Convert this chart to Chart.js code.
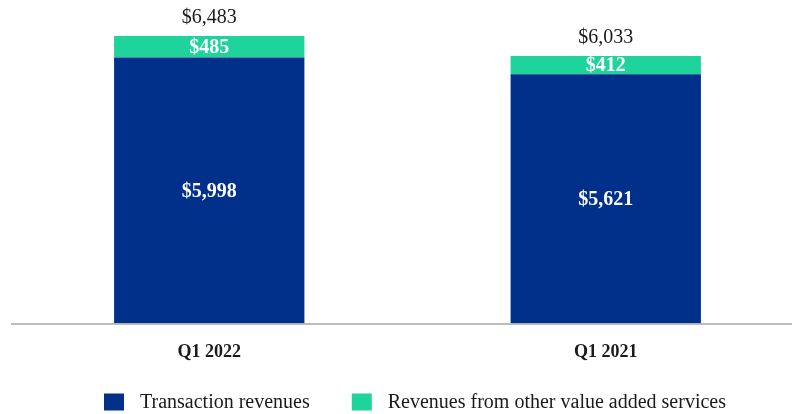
<!DOCTYPE html>
<html>
<head>
<meta charset="utf-8">
<script src="https://cdn.jsdelivr.net/npm/chart.js@4/dist/chart.umd.min.js"></script>
<style>
  html, body { margin: 0; padding: 0; background: #fff; overflow: hidden; }
  /* the plot area runs a little past the right edge of the window, as in the original */
  #wrap { width: 804px; height: 414px; }
</style>
</head>
<body>
<div id="wrap"><canvas id="chart"></canvas></div>
<script>
const quarters = ['Q1 2022', 'Q1 2021'];
const transactionRevenues = [5998, 5621];
const otherServiceRevenues = [485, 412];
const totals = [6483, 6033];

const navy = '#00308A';
const green = '#1ED49A';
const serif = "'Liberation Serif', 'Times New Roman', serif";

function money(v) {
  return '$' + v.toLocaleString('en-US');
}

// draws the value labels, the baseline and the legend
const labelsPlugin = {
  id: 'labels',
  afterDatasetsDraw(chart) {
    const ctx = chart.ctx;
    const area = chart.chartArea;
    ctx.save();

    // baseline
    ctx.strokeStyle = '#a6a6a6';
    ctx.lineWidth = 1.5;
    ctx.beginPath();
    ctx.moveTo(area.left, area.bottom + 0.5);
    ctx.lineTo(chart.width, area.bottom + 0.5);
    ctx.stroke();

    ctx.textAlign = 'center';
    ctx.textBaseline = 'middle';
    chart.data.datasets.forEach((ds, di) => {
      const meta = chart.getDatasetMeta(di);
      meta.data.forEach((bar, i) => {
        const mid = (bar.y + bar.base) / 2;
        ctx.fillStyle = '#ffffff';
        ctx.font = 'bold 20px ' + serif;
        ctx.fillText(money(ds.data[i]), bar.x, mid + 1);
      });
    });

    // totals above the stacks
    const top = chart.getDatasetMeta(1);
    top.data.forEach((bar, i) => {
      ctx.fillStyle = '#1a1a1a';
      ctx.font = '20px ' + serif;
      ctx.fillText(money(totals[i]), bar.x, bar.y - 18);
    });

    // legend
    ctx.font = '20px ' + serif;
    ctx.textAlign = 'left';
    const boxW = 20, boxH = 17, gapText = 16, gapItem = 42;
    let x = 104;
    const y = 402;
    chart.data.datasets.forEach(ds => {
      ctx.fillStyle = ds.backgroundColor;
      ctx.fillRect(x, y - boxH / 2, boxW, boxH);
      x += boxW + gapText;
      ctx.fillStyle = '#1a1a1a';
      ctx.fillText(ds.label, x, y + 1);
      x += ctx.measureText(ds.label).width + gapItem;
    });
    ctx.restore();
  }
};

new Chart(document.getElementById('chart'), {
  type: 'bar',
  data: {
    labels: quarters,
    datasets: [
      {
        label: 'Transaction revenues',
        data: transactionRevenues,
        backgroundColor: navy,
        categoryPercentage: 1,
        barPercentage: 0.48
      },
      {
        label: 'Revenues from other value added services',
        data: otherServiceRevenues,
        backgroundColor: green,
        categoryPercentage: 1,
        barPercentage: 0.48
      }
    ]
  },
  options: {
    responsive: true,
    maintainAspectRatio: false,
    animation: false,
    layout: { padding: { left: 11, right: 0, top: 13, bottom: 33 } },
    plugins: {
      legend: { display: false },
      tooltip: { enabled: false }
    },
    scales: {
      x: {
        stacked: true,
        grid: { display: false, drawTicks: false },
        border: { display: false },
        ticks: {
          padding: 18,
          color: '#1a1a1a',
          font: { family: serif, size: 18, weight: 'bold' }
        }
      },
      y: {
        stacked: true,
        display: false,
        min: 0,
        max: 7000
      }
    }
  },
  plugins: [labelsPlugin]
});
</script>
</body>
</html>
